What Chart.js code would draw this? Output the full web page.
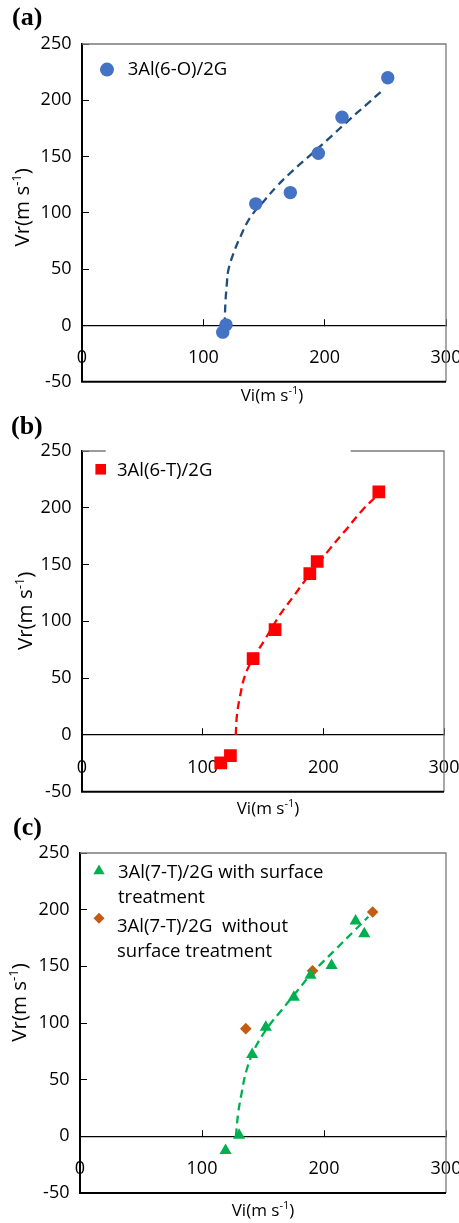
<!DOCTYPE html>
<html><head><meta charset="utf-8">
<script src="https://cdn.jsdelivr.net/npm/chart.js@4.4.1/dist/chart.umd.min.js"></script>
<style>
html,body{margin:0;padding:0;background:#fff;width:459px;height:1223px;overflow:hidden;position:relative}
.panel{position:absolute;left:0;width:459px}
canvas{display:block}
.lbl{position:absolute;font:bold 26px "Liberation Serif","Times New Roman",serif;color:#000;line-height:26px;white-space:nowrap}
</style></head><body>
<div class="panel" style="top:0;height:410px"><canvas id="ca" width="459" height="410"></canvas></div>
<div class="panel" style="top:410px;height:410px"><canvas id="cb" width="459" height="410"></canvas></div>
<div class="panel" style="top:820px;height:403px"><canvas id="cc" width="459" height="403"></canvas></div>
<div class="lbl" style="left:12px;top:4px">(a)</div>
<div class="lbl" style="left:11px;top:413px">(b)</div>
<div class="lbl" style="left:13px;top:814px">(c)</div>
<script>
// ---------- data ----------
const xTickValues = [0, 100, 200, 300];
const yTickValues = [-50, 0, 50, 100, 150, 200, 250];

const xTitleText = ['Vi(m s', '-1', ')'];
const yTitleText = ['Vr(m s', '-1', ')'];

// Panel (a)
const seriesA = ['3Al(6-O)/2G'];
const aVi = [116, 118.7, 143.2, 171.7, 194.8, 214.3, 252];
const aVr = [-6, 0.5, 108, 118, 153, 185, 220];
const aFitVi = [117.6, 118.2, 119.3, 120.6, 124.7, 130.3, 138.5, 150.9, 160.5, 174.2, 188, 201.7, 220.9, 234.7, 248.4];
const aFitVr = [0, 20, 36, 49, 63.6, 78.2, 95.7, 111.7, 123.5, 138, 151.1, 164.3, 183.3, 196.4, 209.5];

// Panel (b)
const seriesB = ['3Al(6-T)/2G'];
const bVi = [115, 123, 141.8, 160, 188.8, 194.9, 246];
const bVr = [-24.7, -18.3, 67.2, 92.8, 142, 152.7, 214.1];
const bFitVi = [127.4, 128.5, 131.3, 134.9, 140.5, 151.5, 163.9, 175, 186.1, 205.4, 219.2, 233, 242.7];
const bFitVr = [0, 18.3, 35.8, 51.8, 64.9, 83.8, 105.6, 121.6, 137.6, 163.8, 181.2, 198.7, 208.9];

// Panel (c)
const seriesC1 = ['3Al(7-T)/2G with surface', 'treatment'];
const seriesC2 = ['3Al(7-T)/2G  without', 'surface treatment'];
const cVi = [119.3, 130.4, 141.1, 152.3, 175.3, 189, 206.2, 225.9, 233];
const cVr = [-12.4, 0.9, 72.2, 96.3, 122.8, 142.2, 150.8, 190, 178.7];
const c2Vi = [135.9, 190.6, 239.9];
const c2Vr = [95, 146, 198];
const cFitVi = [127.8, 129.6, 132.4, 136.5, 143.3, 154.2, 165.2, 177.5, 191.1, 208.9, 224, 236.3];
const cFitVr = [0, 20, 37.7, 58.3, 77.5, 96.6, 111.3, 127.5, 145.1, 164.3, 180.5, 193.7];

// ---------- helpers ----------
const FONT = '"Open Sans", "Liberation Sans", sans-serif';
const toPts = (xs, ys) => xs.map((x, i) => ({ x: x, y: ys[i] }));

function drawMarker(ctx, style, r, x, y, color) {
  ctx.save();
  ctx.fillStyle = color;
  ctx.beginPath();
  if (style === 'circle') {
    ctx.arc(x, y, r, 0, Math.PI * 2);
  } else if (style === 'rect') {
    const s = r * Math.SQRT1_2;
    ctx.rect(x - s, y - s, 2 * s, 2 * s);
  } else if (style === 'triangle') {
    let a = 0;
    ctx.moveTo(x + Math.sin(a) * r, y - Math.cos(a) * r);
    a += 2 * Math.PI / 3;
    ctx.lineTo(x + Math.sin(a) * r, y - Math.cos(a) * r);
    a += 2 * Math.PI / 3;
    ctx.lineTo(x + Math.sin(a) * r, y - Math.cos(a) * r);
    ctx.closePath();
  } else if (style === 'rectRot') {
    ctx.moveTo(x - r, y); ctx.lineTo(x, y - r); ctx.lineTo(x + r, y); ctx.lineTo(x, y + r);
    ctx.closePath();
  }
  ctx.fill();
  ctx.restore();
}

function drawSupText(ctx, parts, size, cx, cy, rotate) {
  const supSize = Math.round(size * 0.62);
  const fonts = [size + 'px ' + FONT, supSize + 'px ' + FONT, size + 'px ' + FONT];
  const widths = parts.map((t, i) => { ctx.font = fonts[i]; return ctx.measureText(t).width; });
  const total = widths.reduce((s, w) => s + w, 0);
  ctx.save();
  ctx.translate(cx, cy);
  if (rotate) ctx.rotate(-Math.PI / 2);
  ctx.fillStyle = '#000';
  ctx.textBaseline = 'alphabetic';
  ctx.textAlign = 'left';
  const base = 0.26 * size;
  let x = -total / 2;
  parts.forEach((t, i) => {
    ctx.font = fonts[i];
    ctx.fillText(t, x, i === 1 ? base - 0.42 * size : base);
    x += widths[i];
  });
  ctx.restore();
}

const decoPlugin = {
  id: 'panelDeco',
  beforeDatasetsDraw(chart, args, o) {
    const { ctx, chartArea: a } = chart;
    ctx.save();
    ctx.strokeStyle = '#7a7a7a';
    ctx.lineWidth = 1.3;
    ctx.beginPath();
    ctx.moveTo(a.left, a.top); ctx.lineTo(a.right, a.top); ctx.lineTo(a.right, a.bottom);
    ctx.stroke();
    ctx.strokeStyle = '#000';
    ctx.lineWidth = 2;
    ctx.beginPath();
    ctx.moveTo(a.left - 1, a.bottom); ctx.lineTo(a.right, a.bottom);
    ctx.stroke();
    ctx.restore();
  },
  afterDatasetsDraw(chart, args, o) {
    const { ctx, chartArea: a } = chart;
    // legend
    if (o.box) {
      ctx.save();
      ctx.fillStyle = '#fff';
      ctx.fillRect(a.left + o.box[0], a.top + o.box[1], o.box[2], o.box[3]);
      ctx.restore();
    }
    (o.items || []).forEach(it => {
      const ds = chart.data.datasets[it.ds];
      drawMarker(ctx, ds.pointStyle, it.r, a.left + it.mx, a.top + it.my, ds.backgroundColor);
      ctx.save();
      ctx.font = o.fontSize + 'px ' + FONT;
      ctx.fillStyle = '#000';
      ctx.textBaseline = 'middle';
      ctx.textAlign = 'left';
      const lines = Array.isArray(ds.label) ? ds.label : [ds.label];
      lines.forEach((t, k) => ctx.fillText(t, a.left + it.tx, a.top + it.ty + k * o.lineH));
      ctx.restore();
    });
    // axis titles
    drawSupText(ctx, xTitleText, 17, (a.left + a.right) / 2 + o.xTitle.dx, a.bottom + o.xTitle.dy, false);
    drawSupText(ctx, yTitleText, 20.5, o.yTitle.x, (a.top + a.bottom) / 2 + o.yTitle.dy, true);
  }
};

function makeChart(id, datasets, pad, yWidth, deco) {
  return new Chart(document.getElementById(id), {
    type: 'scatter',
    data: { datasets: datasets },
    options: {
      responsive: false,
      animation: false,
      devicePixelRatio: 1,
      events: [],
      layout: { padding: pad },
      plugins: { legend: { display: false }, tooltip: { enabled: false }, title: { display: false }, panelDeco: deco },
      scales: {
        x: {
          type: 'linear',
          position: { y: 0 },
          min: xTickValues[0],
          max: xTickValues[xTickValues.length - 1],
          afterBuildTicks: s => { s.ticks = xTickValues.map(v => ({ value: v })); },
          afterFit: s => { s.paddingLeft = 0; s.paddingRight = 0; },
          grid: { drawOnChartArea: false, drawTicks: true, tickLength: -7, color: '#000', lineWidth: 1 },
          border: { display: true, color: '#000', width: 1.2 },
          ticks: { font: { family: FONT, size: 18 }, color: '#000', padding: 29, maxRotation: 0, autoSkip: false }
        },
        y: {
          type: 'linear',
          position: 'left',
          min: yTickValues[0],
          max: yTickValues[yTickValues.length - 1],
          afterBuildTicks: s => { s.ticks = yTickValues.map(v => ({ value: v })); },
          afterFit: s => { s.width = yWidth; },
          grid: { drawOnChartArea: false, drawTicks: true, tickLength: -7, color: '#000', lineWidth: 1 },
          border: { display: true, color: '#000', width: 2 },
          ticks: { font: { family: FONT, size: 18 }, color: '#000', padding: 17.5, autoSkip: false }
        }
      }
    },
    plugins: [decoPlugin]
  });
}

function trend(xs, ys, color) {
  return {
    label: 'trend', data: toPts(xs, ys), showLine: true, pointRadius: 0, pointHoverRadius: 0,
    borderColor: color, borderWidth: 2.3, borderDash: [8, 5], fill: false,
    tension: 0.4, cubicInterpolationMode: 'default', order: 5
  };
}
function points(label, xs, ys, style, r, color) {
  return {
    label: label, data: toPts(xs, ys), pointStyle: style, pointRadius: r, pointHoverRadius: r,
    backgroundColor: color, borderColor: color, borderWidth: 0, showLine: false, order: 1
  };
}

// Panel (a)
makeChart('ca', [
  points(seriesA[0], aVi, aVr, 'circle', 6.7, '#4472C4'),
  trend(aFitVi, aFitVr, '#1F4E79')
], { top: 44, right: 13, bottom: 23, left: 0 }, 82, {
  fontSize: 18.5, lineH: 24.6,
  items: [{ ds: 0, mx: 25, my: 25.6, r: 7, tx: 45.7, ty: 25.8 }],
  xTitle: { dx: 8, dy: 15 }, yTitle: { x: 24, dy: -5.5 }
});

// Panel (b)
makeChart('cb', [
  points(seriesB[0], bVi, bVr, 'rect', 9, '#FF0000'),
  trend(bFitVi, bFitVr, '#FF0000')
], { top: 41, right: 15, bottom: 25, left: 0 }, 82, {
  fontSize: 18.5, lineH: 24.6,
  box: [23.7, -3, 245, 42],
  items: [{ ds: 0, mx: 18.7, my: 18.3, r: 7.5, tx: 35, ty: 19.7 }],
  xTitle: { dx: 5, dy: 17.7 }, yTitle: { x: 27, dy: -10.5 }
});

// Panel (c)
makeChart('cc', [
  points(seriesC1, cVi, cVr, 'triangle', 7, '#00B050'),
  points(seriesC2, c2Vi, c2Vr, 'rectRot', 5.8, '#C55A11'),
  trend(cFitVi, cFitVr, '#00B050')
], { top: 33, right: 13, bottom: 30, left: 0 }, 80, {
  fontSize: 18.5, lineH: 24.6,
  items: [
    { ds: 0, mx: 19, my: 18, r: 6.5, tx: 38, ty: 19.7 },
    { ds: 1, mx: 19, my: 65.3, r: 5.5, tx: 37, ty: 73.7 }
  ],
  xTitle: { dx: 0, dy: 18.7 }, yTitle: { x: 21, dy: -20.5 }
});
</script>
</body></html>
